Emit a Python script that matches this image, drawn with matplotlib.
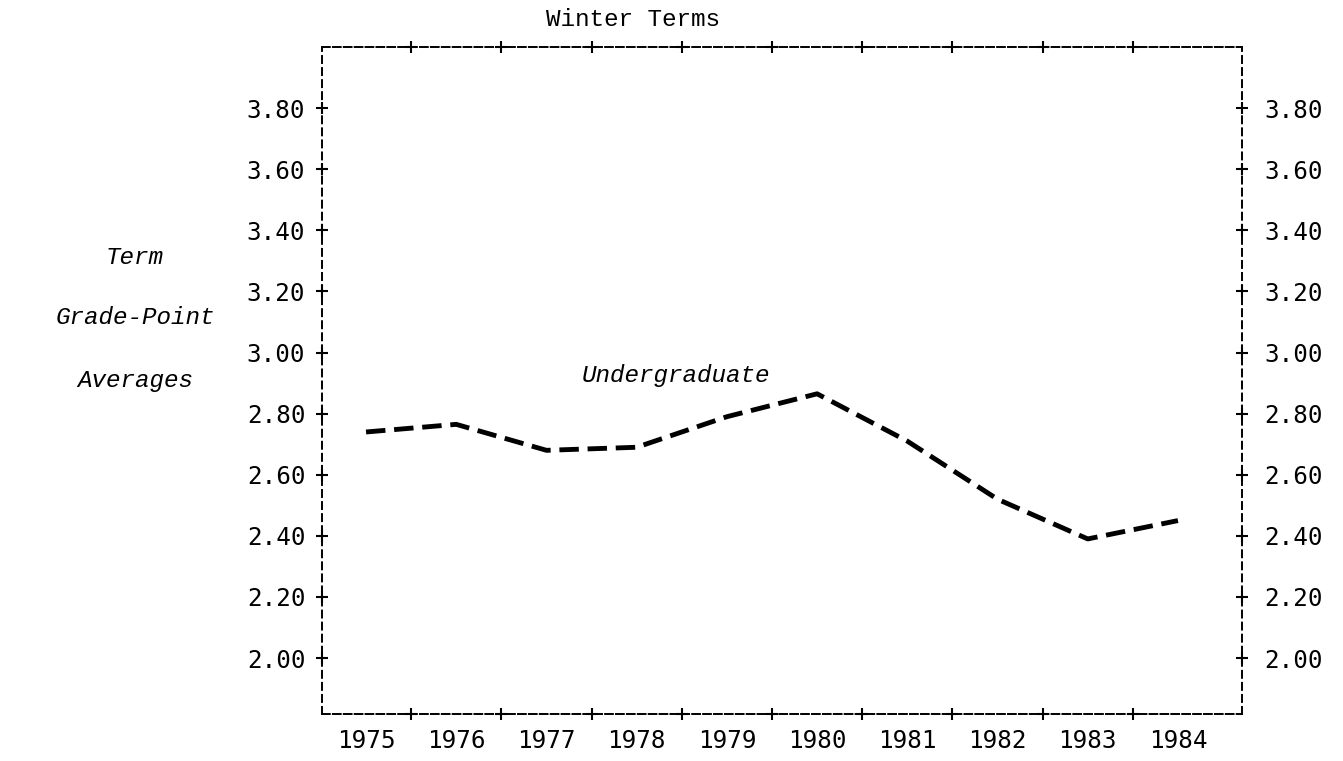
import matplotlib
matplotlib.use("Agg")
import matplotlib.pyplot as plt
from matplotlib.transforms import ScaledTranslation

# Term grade-point averages, winter terms
years = [1975, 1976, 1977, 1978, 1979, 1980, 1981, 1982, 1983, 1984]
undergrad_gpa = [2.74, 2.765, 2.68, 2.69, 2.79, 2.865, 2.71, 2.52, 2.39, 2.45]
y_ticks = [2.00, 2.20, 2.40, 2.60, 2.80, 3.00, 3.20, 3.40, 3.60, 3.80]
y_tick_labels = ["2.00", "2.20", "2.40", "2.60", "2.80", "3.00", "3.20", "3.40", "3.60", "3.80"]
title_text = "Winter Terms"
ylabel_lines = ["Term", "Grade-Point", "Averages"]
series_label = "Undergraduate"

MONO = ["DejaVu Sans Mono"]
TYPE = ["Liberation Mono", "DejaVu Sans Mono"]
FS = 17.5

W, H = 1343, 761
fig = plt.figure(figsize=(W / 100, H / 100), dpi=100)
fig.patch.set_facecolor("white")

left, right, top, bottom = 322, 1242, 47, 714
ax = fig.add_axes([left / W, 1 - bottom / H, (right - left) / W, (bottom - top) / H])
ax.set_xlim(years[0] - 0.488, years[-1] + 0.71)
ax.set_ylim(1.817, 4.00)

# dashed frame: short tight dashes on the horizontal edges, sparser on the sides
for side in ("top", "bottom"):
    ax.spines[side].set_linewidth(1.4)
    ax.spines[side].set_linestyle((0, (4.0, 1.6)))
for side in ("left", "right"):
    ax.spines[side].set_linewidth(1.4)
    ax.spines[side].set_linestyle((0, (3.6, 2.6)))

# "+" marks on the frame
xcross = [y + 0.5 for y in years[:-1]]
xt = ax.get_xaxis_transform()
yt = ax.get_yaxis_transform()
for yy in (0, 1):
    ax.plot(xcross, [yy] * len(xcross), ls="none", marker="+", ms=9, mew=1.5,
            color="black", transform=xt, clip_on=False, zorder=5)
for xx in (0, 1):
    ax.plot([xx] * len(y_ticks), y_ticks, ls="none", marker="+", ms=9, mew=1.5,
            color="black", transform=yt, clip_on=False, zorder=5)

# tick labels
ax.set_xticks(years)
ax.set_xticklabels([str(y) for y in years], fontfamily=MONO, fontsize=FS)
ax.set_yticks(y_ticks)
ax.set_yticklabels(y_tick_labels, fontfamily=MONO, fontsize=FS)
ax.tick_params(axis="x", length=0, pad=11)
ax.tick_params(axis="y", length=0, labelright=True, pad=12)
off = ScaledTranslation(4 / 72, 0, fig.dpi_scale_trans)
for t in ax.yaxis.get_major_ticks():
    t.label2.set_fontfamily(MONO)
    t.label2.set_fontsize(FS)
    t.label2.set_transform(t.label2.get_transform() + off)

# series
ax.plot(years, undergrad_gpa, color="black", lw=3.5, dashes=(4, 1.8),
        dash_capstyle="butt")
ax.text(1978.43, 2.925, series_label, fontfamily=TYPE, style="italic",
        fontsize=FS, ha="center", va="center")

# title and stacked y label
fig.text(633 / W, 1 - 20 / H, title_text, fontfamily=TYPE, fontsize=FS,
         ha="center", va="center")
for txt, yy in zip(ylabel_lines, [258, 318, 380]):
    fig.text(135 / W, 1 - yy / H, txt, fontfamily=TYPE, style="italic",
             fontsize=FS, ha="center", va="center")

fig.savefig("out.png", dpi=100, facecolor="white")
